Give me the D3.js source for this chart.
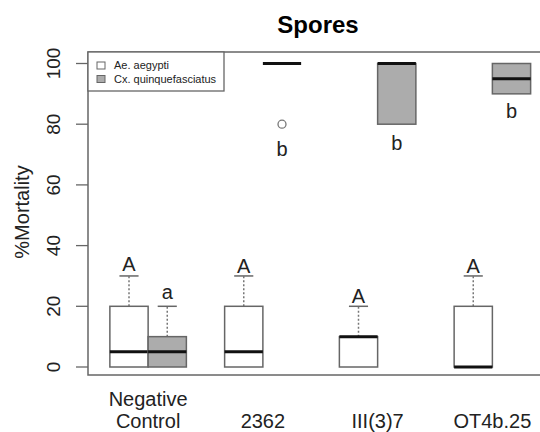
<!DOCTYPE html>
<html>
  <head>
    <script src='https://d3js.org/d3.v7.min.js'></script>
    <style type='text/css'>
      body, html { margin: 0; padding: 0; background: #fff; }
      svg { display: block; }
    </style>
  </head>
  <body>
    <svg width='540' height='432' font-family='Liberation Sans, Arial, sans-serif'></svg>
    <script type='text/javascript'>
      // values
      var groups = ['Negative Control', '2362', 'III(3)7', 'OT4b.25']
      var species = ['Ae. aegypti', 'Cx. quinquefasciatus']
      var yTicks = [0, 20, 40, 60, 80, 100]

      // [min, q1, median, q3, max]
      var aeStats = [[0, 0, 5, 20, 30], [0, 0, 5, 20, 30], [0, 0, 10, 10, 20], [0, 0, 0, 20, 30]]
      var cxStats = [[0, 0, 5, 10, 20], [100, 100, 100, 100, 100], [80, 80, 100, 100, 100], [90, 90, 95, 100, 100]]
      var aeOutliers = [[], [], [], []]
      var cxOutliers = [[], [80], [], []]

      var aeLetters = ['A', 'A', 'A', 'A']
      var aeLetterY = [31.5, 31, 21, 31]
      var cxLetters = ['a', 'b', 'b', 'b']
      var cxLetterY = [22.5, 69.5, 71.6, 82]

      var svg = d3.select('svg')
      var fillColor = ['#ffffff', '#acacac']
      var edge = '#666666'

      var plotLeft = 88, plotRight = 548, plotTop = 52, plotBottom = 375

      var x = d3.scaleLinear().domain([1, 11]).range([129, 511.5])
      var y = d3.scaleLinear().domain([0, 100]).range([367, 63.5])
      var unit = x(2) - x(1)
      var boxW = unit

      // build box records
      var boxes = []
      groups.forEach(function(g, i) {
        boxes.push({pos: 1 + 3 * i, s: aeStats[i], out: aeOutliers[i], fill: fillColor[0], letter: aeLetters[i], ly: aeLetterY[i]})
        boxes.push({pos: 2 + 3 * i, s: cxStats[i], out: cxOutliers[i], fill: fillColor[1], letter: cxLetters[i], ly: cxLetterY[i]})
      })

      // title
      svg.append('text')
        .attr('x', (plotLeft + plotRight) / 2)
        .attr('y', 33)
        .attr('text-anchor', 'middle')
        .attr('font-size', 24)
        .attr('font-weight', 'bold')
        .text('Spores')

      // y axis
      var yAxis = svg.append('g')
      yAxis.selectAll('line.tick').data(yTicks).enter().append('line')
        .attr('x1', 76).attr('x2', plotLeft)
        .attr('y1', function(d) { return y(d) }).attr('y2', function(d) { return y(d) })
        .attr('stroke', edge).attr('stroke-width', 1.3)
      yAxis.selectAll('text').data(yTicks).enter().append('text')
        .attr('transform', function(d) { return 'translate(60,' + y(d) + ') rotate(-90)' })
        .attr('text-anchor', 'middle')
        .attr('font-size', 19)
        .attr('fill', '#222')
        .text(function(d) { return d })

      svg.append('text')
        .attr('transform', 'translate(29,212) rotate(-90)')
        .attr('text-anchor', 'middle')
        .attr('font-size', 20)
        .attr('fill', '#222')
        .text('%Mortality')

      // x labels
      groups.forEach(function(g, i) {
        var lines = g.split(' ')
        var cx = (x(1 + 3 * i) + x(2 + 3 * i)) / 2
        lines.forEach(function(l, j) {
          svg.append('text')
            .attr('x', cx)
            .attr('y', 428 - (lines.length - 1 - j) * 22.5)
            .attr('text-anchor', 'middle')
            .attr('font-size', 20)
            .attr('fill', '#222')
            .text(l)
        })
      })

      // boxes
      var node = svg.selectAll('.box').data(boxes).enter().append('g').attr('class', 'box')

      node.filter(function(d) { return d.s[4] > d.s[3] }).append('line')
        .attr('x1', function(d) { return x(d.pos) }).attr('x2', function(d) { return x(d.pos) })
        .attr('y1', function(d) { return y(d.s[3]) }).attr('y2', function(d) { return y(d.s[4]) })
        .attr('stroke', '#777').attr('stroke-width', 1.5).attr('stroke-dasharray', '2,2')
      node.filter(function(d) { return d.s[4] > d.s[3] }).append('line')
        .attr('x1', function(d) { return x(d.pos) - boxW / 4 }).attr('x2', function(d) { return x(d.pos) + boxW / 4 })
        .attr('y1', function(d) { return y(d.s[4]) }).attr('y2', function(d) { return y(d.s[4]) })
        .attr('stroke', edge).attr('stroke-width', 1.5)

      node.filter(function(d) { return d.s[3] > d.s[1] }).append('rect')
        .attr('x', function(d) { return x(d.pos) - boxW / 2 })
        .attr('width', boxW)
        .attr('y', function(d) { return y(d.s[3]) })
        .attr('height', function(d) { return y(d.s[1]) - y(d.s[3]) })
        .attr('fill', function(d) { return d.fill })
        .attr('stroke', edge).attr('stroke-width', 1.5)

      node.append('line')
        .attr('x1', function(d) { return x(d.pos) - boxW / 2 }).attr('x2', function(d) { return x(d.pos) + boxW / 2 })
        .attr('y1', function(d) { return y(d.s[2]) }).attr('y2', function(d) { return y(d.s[2]) })
        .attr('stroke', '#111').attr('stroke-width', 3)

      node.selectAll('circle').data(function(d) { return d.out.map(function(v) { return {pos: d.pos, v: v} }) })
        .enter().append('circle')
        .attr('cx', function(d) { return x(d.pos) }).attr('cy', function(d) { return y(d.v) })
        .attr('r', 4).attr('fill', 'none').attr('stroke', '#777').attr('stroke-width', 1.3)

      node.append('text')
        .attr('x', function(d) { return x(d.pos) })
        .attr('y', function(d) { return y(d.ly) })
        .attr('text-anchor', 'middle')
        .attr('font-size', 20)
        .attr('fill', '#222')
        .text(function(d) { return d.letter })

      // plot frame
      svg.append('rect')
        .attr('x', plotLeft).attr('y', plotTop)
        .attr('width', plotRight - plotLeft).attr('height', plotBottom - plotTop)
        .attr('fill', 'none').attr('stroke', edge).attr('stroke-width', 1.5)

      // legend
      var leg = svg.append('g')
      leg.append('rect')
        .attr('x', plotLeft).attr('y', plotTop).attr('width', 136).attr('height', 39)
        .attr('fill', '#fff').attr('stroke', edge).attr('stroke-width', 1.3)
      species.forEach(function(s, i) {
        leg.append('rect')
          .attr('x', 97).attr('y', 62 + i * 13.5).attr('width', 8).attr('height', 7)
          .attr('fill', fillColor[i]).attr('stroke', edge).attr('stroke-width', 1)
        leg.append('text')
          .attr('x', 114).attr('y', 69 + i * 13.5)
          .attr('font-size', 11)
          .attr('fill', '#222')
          .text(s)
      })
    </script>
  </body>
</html>
